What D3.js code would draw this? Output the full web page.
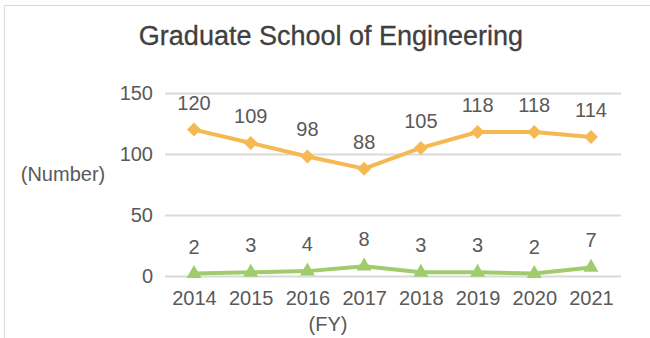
<!DOCTYPE html>
<html>
<head>
<meta charset="utf-8">
<script src="https://cdn.jsdelivr.net/npm/d3@7/dist/d3.min.js"></script>
<style>
  html, body { margin: 0; padding: 0; background: #fff; }
  svg { display: block; font-family: "Liberation Sans", Arial, sans-serif; }
</style>
</head>
<body>
<svg id="chart" width="650" height="338"></svg>
<script>
// Fiscal years on the x axis
const years = ["2014", "2015", "2016", "2017", "2018", "2019", "2020", "2021"];
// Upper series (diamond markers)
const seriesA = [120, 109, 98, 88, 105, 118, 118, 114];
// Lower series (triangle markers)
const seriesB = [2, 3, 4, 8, 3, 3, 2, 7];
// Value axis ticks
const yTicks = [0, 50, 100, 150];

const titleText = "Graduate School of Engineering";
const colorA = "#F5B852";
const colorB = "#A0CC6E";
const textColor = "#595959";
const fontSize = 20;

const svg = d3.select("#chart");

// Chart area frame (left and top edges)
svg.append("path")
  .attr("d", "M4.5,338 V5.5 H650")
  .attr("fill", "none")
  .attr("stroke", "#d9d9d9")
  .attr("stroke-width", 1);

svg.append("text")
  .attr("x", 331).attr("y", 45)
  .attr("text-anchor", "middle")
  .attr("font-size", 27)
  .attr("fill", "#404040")
  .attr("stroke", "#404040")
  .attr("stroke-width", 0.3)
  .text(titleText);

const x = d3.scalePoint().domain(years).range([194, 591]);
const y = d3.scaleLinear().domain([0, 150]).range([276, 93]);

// Horizontal gridlines
svg.append("g")
  .selectAll("line")
  .data(yTicks)
  .join("line")
  .attr("x1", 165).attr("x2", 621)
  .attr("y1", d => Math.round(y(d)) + 0.5)
  .attr("y2", d => Math.round(y(d)) + 0.5)
  .attr("stroke", "#d9d9d9")
  .attr("stroke-width", 2);

// Value axis labels
const yAxis = d3.axisLeft(y).tickValues(yTicks).tickSize(0).tickPadding(0);
const gy = svg.append("g").attr("transform", "translate(153,0)").call(yAxis);
gy.select(".domain").remove();
gy.selectAll("text")
  .attr("font-size", fontSize)
  .attr("font-family", "Liberation Sans, Arial, sans-serif")
  .attr("fill", textColor);

// Year labels
const xAxis = d3.axisBottom(x).tickSize(0).tickPadding(0);
const gx = svg.append("g").attr("transform", "translate(0,291)").call(xAxis);
gx.select(".domain").remove();
gx.selectAll("text")
  .attr("font-size", fontSize)
  .attr("font-family", "Liberation Sans, Arial, sans-serif")
  .attr("fill", textColor);

svg.append("text")
  .attr("x", 328).attr("y", 331)
  .attr("text-anchor", "middle")
  .attr("font-size", fontSize)
  .attr("fill", textColor)
  .text("(FY)");

svg.append("text")
  .attr("x", 63).attr("y", 181)
  .attr("text-anchor", "middle")
  .attr("font-size", fontSize)
  .attr("fill", textColor)
  .text("(Number)");

const line = d3.line().x((d, i) => x(years[i])).y(d => y(d));

function drawSeries(values, color, symbolType, symbolSize) {
  const g = svg.append("g");
  g.append("path")
    .datum(values)
    .attr("d", line)
    .attr("fill", "none")
    .attr("stroke", color)
    .attr("stroke-width", 4)
    .attr("stroke-linejoin", "round");
  g.selectAll("path.mark")
    .data(values)
    .join("path")
    .attr("class", "mark")
    .attr("transform", (d, i) => `translate(${x(years[i])},${y(d)})`)
    .attr("d", d3.symbol().type(symbolType).size(symbolSize))
    .attr("fill", color);
  g.selectAll("text")
    .data(values)
    .join("text")
    .attr("x", (d, i) => x(years[i]))
    .attr("y", d => y(d) - 20)
    .attr("text-anchor", "middle")
    .attr("font-size", fontSize)
    .attr("fill", textColor)
    .text(d => d);
}

drawSeries(seriesA, colorA, d3.symbolDiamond2, 125);
drawSeries(seriesB, colorB, d3.symbolTriangle2, 160);
</script>
</body>
</html>
